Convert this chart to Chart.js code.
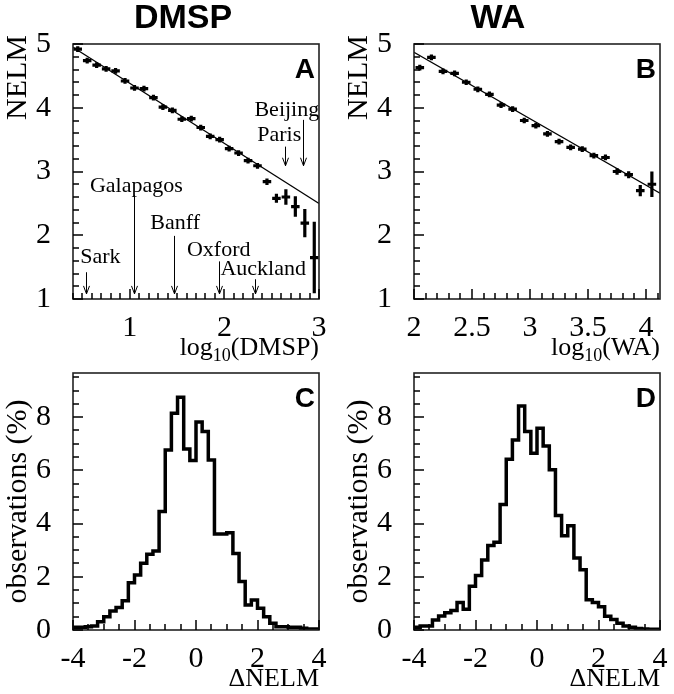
<!DOCTYPE html>
<html>
<head>
<meta charset="utf-8">
<script src="https://cdn.jsdelivr.net/npm/chart.js@4.4.1/dist/chart.umd.min.js"></script>
<style>
  body { margin: 0; background: #fff; width: 674px; height: 694px; position: relative; overflow: hidden; }
  canvas { position: absolute; left: 0; top: 0; }
</style>
</head>
<body>
<canvas id="chartA" width="674" height="694"></canvas>
<canvas id="chartB" width="674" height="694"></canvas>
<canvas id="chartC" width="674" height="694"></canvas>
<canvas id="chartD" width="674" height="694"></canvas>
<script>
// ---- data ----

// panel A: NELM vs log10(DMSP)
const dmspX = [0.45, 0.55, 0.65, 0.75, 0.85, 0.95, 1.05, 1.15, 1.25, 1.35, 1.45, 1.55, 1.65,
               1.75, 1.85, 1.95, 2.05, 2.15, 2.25, 2.35, 2.45, 2.55, 2.65, 2.75, 2.85, 2.95];
const dmspY = [4.92, 4.74, 4.67, 4.61, 4.58, 4.42, 4.31, 4.30, 4.16, 4.01, 3.96, 3.82, 3.83,
               3.69, 3.55, 3.50, 3.36, 3.29, 3.17, 3.09, 2.84, 2.58, 2.60, 2.45, 2.19, 1.65];
const dmspErr = [0.045, 0.045, 0.045, 0.045, 0.045, 0.045, 0.045, 0.045, 0.045, 0.045, 0.045, 0.045, 0.045,
                 0.045, 0.045, 0.045, 0.045, 0.045, 0.045, 0.045, 0.05, 0.07, 0.12, 0.16, 0.22, 0.56];
const dmspFitX = [0.4, 3.0];
const dmspFitY = [4.95, 2.50];

// city markers in panel A
const cities = ['Sark', 'Galapagos', 'Banff', 'Oxford', 'Auckland', 'Paris', 'Beijing'];
const cityArrowX = [0.54, 1.04, 1.47, 1.94, 2.32, 2.64, 2.83];
const cityArrowFrom = [1.42, 2.63, 1.99, 1.59, 1.31, 3.39, 3.81];
const cityArrowTo = [1.08, 1.08, 1.08, 1.08, 1.08, 3.09, 3.09];
const cityLabelX = [0.69, 1.07, 1.48, 1.94, 2.41, 2.58, 2.66];
const cityLabelY = [1.66, 2.77, 2.19, 1.77, 1.47, 3.57, 3.96];

// panel B: NELM vs log10(WA)
const waX = [2.05, 2.15, 2.25, 2.35, 2.45, 2.55, 2.65, 2.75, 2.85, 2.95, 3.05,
             3.15, 3.25, 3.35, 3.45, 3.55, 3.65, 3.75, 3.85, 3.95, 4.05];
const waY = [4.63, 4.79, 4.57, 4.54, 4.40, 4.29, 4.21, 4.04, 3.98, 3.80, 3.72,
             3.59, 3.47, 3.38, 3.35, 3.25, 3.22, 3.00, 2.95, 2.70, 2.80];
const waErr = [0.045, 0.045, 0.045, 0.045, 0.045, 0.045, 0.045, 0.045, 0.045, 0.045, 0.045,
               0.045, 0.045, 0.045, 0.045, 0.045, 0.045, 0.05, 0.055, 0.09, 0.20];
const waFitX = [2.0, 4.12];
const waFitY = [4.87, 2.66];

// panels C, D: distribution of delta NELM (%)
const deltaEdges = [-4.0, -3.8, -3.6, -3.4, -3.2, -3.0, -2.8, -2.6, -2.4, -2.2, -2.0,
                    -1.8, -1.6, -1.4, -1.2, -1.0, -0.8, -0.6, -0.4, -0.2, 0.0,
                    0.2, 0.4, 0.6, 0.8, 1.0, 1.2, 1.4, 1.6, 1.8, 2.0,
                    2.2, 2.4, 2.6, 2.8, 3.0, 3.2, 3.4, 3.6, 3.8, 4.0];
const dmspHist = [0.06, 0.10, 0.10, 0.12, 0.15, 0.31, 0.50, 0.71, 0.85, 1.10,
                  1.78, 2.07, 2.51, 2.85, 2.97, 4.45, 6.77, 8.15, 8.75, 6.80,
                  6.37, 7.82, 7.46, 6.39, 3.61, 3.61, 3.66, 2.88, 1.82, 0.94,
                  1.13, 0.82, 0.50, 0.25, 0.12, 0.12, 0.10, 0.10, 0.07, 0.04];
const waHist = [0.06, 0.10, 0.15, 0.15, 0.38, 0.53, 0.65, 0.73, 1.03, 0.78,
                1.64, 2.05, 2.63, 3.18, 3.30, 4.72, 6.42, 7.14, 8.42, 7.46,
                6.64, 7.58, 6.92, 6.02, 4.30, 3.54, 3.92, 2.71, 2.26, 1.14,
                1.03, 0.87, 0.52, 0.39, 0.25, 0.15, 0.10, 0.06, 0.04, 0.03];

// tick labels
const nelmTicks = [1, 2, 3, 4, 5];
const dmspTicks = [1, 2, 3];
const waTicks = [2, 2.5, 3, 3.5, 4];
const deltaTicks = [-4, -2, 0, 2, 4];
const obsTicks = [0, 2, 4, 6, 8];

// ---- helpers ----
const SERIF = '"Liberation Serif", "Times New Roman", serif';
const SANS = '"Liberation Sans", Arial, sans-serif';
const Y_W = 60, X_H = 45;

function near(a, b) { return Math.abs(a - b) < 1e-6; }
function onStep(v, m) { return near(v / m, Math.round(v / m)); }

function crossSegments(xs, ys, errs, dx) {
  const h = [], v = [];
  xs.forEach((x, i) => {
    h.push({x: x - dx, y: ys[i]}, {x: x + dx, y: ys[i]}, {x: null, y: null});
    v.push({x: x, y: ys[i] - errs[i]}, {x: x, y: ys[i] + errs[i]}, {x: null, y: null});
  });
  return [h, v];
}

function histPoints(edges, vals) {
  return edges.map((x, i) => ({x: x, y: vals[Math.min(i, vals.length - 1)]}));
}

function axis(min, max, step, labels, isX) {
  return {
    type: 'linear', min: min, max: max,
    afterFit: s => { if (isX) s.height = X_H; else s.width = Y_W; },
    grid: {display: false}, border: {display: false},
    ticks: {
      stepSize: step, autoSkip: false, maxRotation: 0, minRotation: 0, includeBounds: false,
      padding: isX ? 3 : 14, color: '#000', font: {family: SERIF, size: 30},
      callback: v => labels.some(l => near(l, v)) ? String(v) : ''
    }
  };
}

// frame, inward ticks, titles, panel letter
function decor(o) {
  return {
    id: 'decor',
    afterDraw(chart) {
      const {ctx, chartArea: a, scales} = chart;
      ctx.save();
      ctx.strokeStyle = '#222';
      ctx.lineWidth = 1.6;
      ctx.strokeRect(a.left, a.top, a.right - a.left, a.bottom - a.top);
      ctx.strokeStyle = '#000';
      ctx.lineWidth = 1.5;
      ctx.beginPath();
      scales.x.ticks.forEach(t => {
        const px = Math.round(scales.x.getPixelForValue(t.value));
        const len = onStep(t.value, o.xMajor) ? 10 : 6;
        ctx.moveTo(px, a.bottom); ctx.lineTo(px, a.bottom - len);
      });
      scales.y.ticks.forEach(t => {
        const py = Math.round(scales.y.getPixelForValue(t.value));
        const len = onStep(t.value, o.yMajor) ? 10 : 6;
        ctx.moveTo(a.left, py); ctx.lineTo(a.left + len, py);
      });
      ctx.stroke();

      ctx.fillStyle = '#000';
      // panel letter
      ctx.font = 'bold 28px ' + SANS;
      ctx.textAlign = 'right';
      ctx.textBaseline = 'alphabetic';
      ctx.fillText(o.letter, a.right - 4, a.top + 34);

      // column title
      if (o.title) {
        ctx.font = 'bold 34px ' + SANS;
        ctx.textAlign = 'center';
        ctx.textBaseline = 'middle';
        ctx.fillText(o.title, o.titleX, 19);
      }

      // x title, right aligned, with optional subscript part
      const big = '26px ' + SERIF, small = '18px ' + SERIF;
      let w = 0;
      o.xTitle.forEach(p => { ctx.font = p.sub ? small : big; w += ctx.measureText(p.t).width; });
      let x = a.right - w;
      const base = a.bottom + 56;
      ctx.textAlign = 'left';
      ctx.textBaseline = 'alphabetic';
      o.xTitle.forEach(p => {
        ctx.font = p.sub ? small : big;
        ctx.fillText(p.t, x, p.sub ? base + 6 : base);
        x += ctx.measureText(p.t).width;
      });

      // y title, rotated; either at the top end of the axis or centred on it
      ctx.save();
      const centred = o.yTitleAlign === 'center';
      ctx.translate(a.left - 55, centred ? (a.top + a.bottom) / 2 : a.top - 9);
      ctx.rotate(-Math.PI / 2);
      ctx.font = o.yTitleSize + 'px ' + SERIF;
      ctx.textAlign = centred ? 'center' : 'right';
      ctx.textBaseline = 'middle';
      ctx.fillText(o.yTitle, 0, 0);
      ctx.restore();

      ctx.restore();
    }
  };
}

// city labels and arrows in panel A
const cityMarks = {
  id: 'cityMarks',
  afterDraw(chart) {
    const {ctx, scales: {x, y}} = chart;
    ctx.save();
    ctx.fillStyle = '#000';
    ctx.strokeStyle = '#000';
    ctx.lineWidth = 1;
    ctx.font = '22px ' + SERIF;
    ctx.textAlign = 'center';
    ctx.textBaseline = 'middle';
    cities.forEach((name, i) => {
      ctx.fillText(name, x.getPixelForValue(cityLabelX[i]), y.getPixelForValue(cityLabelY[i]));
      const ax = Math.round(x.getPixelForValue(cityArrowX[i])) + 0.5;
      const y0 = y.getPixelForValue(cityArrowFrom[i]);
      const y1 = y.getPixelForValue(cityArrowTo[i]);
      ctx.beginPath();
      ctx.moveTo(ax, y0); ctx.lineTo(ax, y1);
      ctx.moveTo(ax - 3, y1 - 8); ctx.lineTo(ax, y1); ctx.lineTo(ax + 3, y1 - 8);
      ctx.stroke();
    });
    ctx.restore();
  }
};

function makeChart(id, box, scales, datasets, plugins) {
  return new Chart(document.getElementById(id), {
    type: 'scatter',
    data: {datasets: datasets},
    options: {
      responsive: false, animation: false, devicePixelRatio: 1,
      layout: {padding: {left: box.l - Y_W, top: box.t, right: 674 - box.r, bottom: 694 - box.b - X_H}},
      elements: {point: {radius: 0, hoverRadius: 0}},
      plugins: {legend: {display: false}, tooltip: {enabled: false}},
      scales: scales
    },
    plugins: plugins
  });
}

function lineSet(data, width, extra) {
  return Object.assign({data: data, showLine: true, borderColor: '#000', borderWidth: width,
    spanGaps: false, borderCapStyle: 'butt', pointRadius: 0}, extra || {});
}

// ---- panel A ----
const [dmspH, dmspV] = crossSegments(dmspX, dmspY, dmspErr, 0.045);
makeChart('chartA', {l: 73, t: 44, r: 319, b: 299},
  {x: axis(0.4, 3.0, 0.1, dmspTicks, true), y: axis(1, 5, 0.2, nelmTicks, false)},
  [
    lineSet(dmspFitX.map((x, i) => ({x: x, y: dmspFitY[i]})), 1.2),
    lineSet(dmspH, 3.2),
    lineSet(dmspV, 3.2)
  ],
  [decor({letter: 'A', title: 'DMSP', titleX: 183, xMajor: 1, yMajor: 1, yTitle: 'NELM',
          yTitleSize: 30, yTitleAlign: 'top',
          xTitle: [{t: 'log'}, {t: '10', sub: true}, {t: '(DMSP)'}]}), cityMarks]);

// ---- panel B ----
const [waH, waV] = crossSegments(waX, waY, waErr, 0.037);
makeChart('chartB', {l: 414, t: 44, r: 660, b: 299},
  {x: axis(2.0, 4.12, 0.1, waTicks, true), y: axis(1, 5, 0.2, nelmTicks, false)},
  [
    lineSet(waFitX.map((x, i) => ({x: x, y: waFitY[i]})), 1.2),
    lineSet(waH, 3.2),
    lineSet(waV, 3.2)
  ],
  [decor({letter: 'B', title: 'WA', titleX: 498, xMajor: 0.5, yMajor: 1, yTitle: 'NELM',
          yTitleSize: 30, yTitleAlign: 'top',
          xTitle: [{t: 'log'}, {t: '10', sub: true}, {t: '(WA)'}]})]);

// ---- panel C ----
makeChart('chartC', {l: 73, t: 373, r: 319, b: 630},
  {x: axis(-4, 4, 0.5, deltaTicks, true), y: axis(0, 9.66, 0.5, obsTicks, false)},
  [lineSet(histPoints(deltaEdges, dmspHist), 3.5, {stepped: 'after', borderJoinStyle: 'miter'})],
  [decor({letter: 'C', xMajor: 2, yMajor: 2, yTitle: 'observations (%)',
          yTitleSize: 30, yTitleAlign: 'center',
          xTitle: [{t: '\u0394NELM'}]})]);

// ---- panel D ----
makeChart('chartD', {l: 414, t: 373, r: 660, b: 630},
  {x: axis(-4, 4, 0.5, deltaTicks, true), y: axis(0, 9.66, 0.5, obsTicks, false)},
  [lineSet(histPoints(deltaEdges, waHist), 3.5, {stepped: 'after', borderJoinStyle: 'miter'})],
  [decor({letter: 'D', xMajor: 2, yMajor: 2, yTitle: 'observations (%)',
          yTitleSize: 30, yTitleAlign: 'center',
          xTitle: [{t: '\u0394NELM'}]})]);
</script>
</body>
</html>
